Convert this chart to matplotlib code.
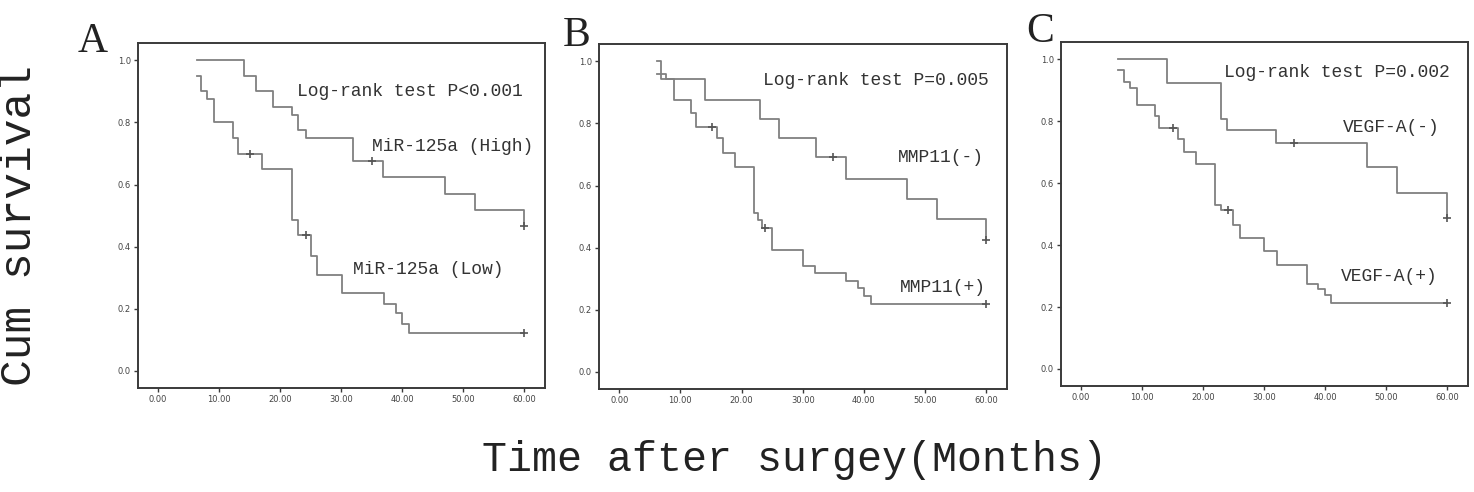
import numpy as np
import matplotlib
matplotlib.use("Agg")
import matplotlib.pyplot as plt

# panel A: MiR-125a
a_high_t = [6.3, 14.0, 16.1, 18.9, 22.0, 23.0, 24.2, 32.0, 36.9, 47.1, 52.0, 60.0]
a_high_s = [1.0, 0.95, 0.90, 0.85, 0.825, 0.775, 0.75, 0.675, 0.625, 0.571, 0.519, 0.467]
a_high_c = [35.0, 60.0]
a_low_t = [6.3, 7.0, 8.0, 9.1, 12.2, 13.1, 17.0, 22.0, 23.0, 25.1, 26.1, 30.1, 37.0, 39.0, 40.0, 41.1, 60.0]
a_low_s = [0.95, 0.90, 0.875, 0.80, 0.75, 0.70, 0.649, 0.486, 0.437, 0.370, 0.309, 0.250, 0.215, 0.185, 0.152, 0.123, 0.123]
a_low_c = [15.1, 24.2, 60.0]

# panel B: MMP11
b_neg_t = [6.2, 6.9, 14.0, 23.0, 26.1, 32.1, 37.0, 47.0, 51.9, 60.0]
b_neg_s = [1.0, 0.944, 0.876, 0.815, 0.753, 0.691, 0.622, 0.557, 0.491, 0.425]
b_neg_c = [34.9, 60.0]
b_pos_t = [6.2, 7.7, 8.9, 11.8, 12.6, 16.0, 17.0, 19.0, 22.0, 22.7, 23.4, 25.0, 30.1, 32.0, 37.0, 39.0, 40.0, 41.1, 60.0]
b_pos_s = [0.96, 0.944, 0.876, 0.835, 0.790, 0.753, 0.704, 0.661, 0.511, 0.489, 0.463, 0.392, 0.341, 0.319, 0.292, 0.271, 0.245, 0.218, 0.218]
b_pos_c = [15.1, 23.9, 60.0]

# panel C: VEGF-A
c_neg_t = [6.1, 14.1, 23.0, 23.9, 32.0, 46.9, 51.8, 59.9]
c_neg_s = [1.0, 0.923, 0.808, 0.773, 0.730, 0.652, 0.570, 0.489]
c_neg_c = [34.9, 59.9]
c_pos_t = [6.1, 7.0, 8.0, 9.1, 12.1, 12.8, 15.9, 16.9, 18.9, 21.9, 23.0, 24.9, 26.0, 29.9, 32.1, 37.0, 38.9, 39.9, 41.0, 60.0]
c_pos_s = [0.965, 0.927, 0.909, 0.853, 0.816, 0.779, 0.743, 0.701, 0.663, 0.529, 0.513, 0.465, 0.422, 0.382, 0.337, 0.275, 0.257, 0.238, 0.212, 0.212]
c_pos_c = [15.1, 24.0, 60.0]

letters = ["A", "B", "C"]
pvals = ["Log-rank test P<0.001", "Log-rank test P=0.005", "Log-rank test P=0.002"]
labels = [("MiR-125a (High)", "MiR-125a (Low)"), ("MMP11(-)", "MMP11(+)"), ("VEGF-A(-)", "VEGF-A(+)")]
curves = [
    ((a_high_t, a_high_s, a_high_c), (a_low_t, a_low_s, a_low_c)),
    ((b_neg_t, b_neg_s, b_neg_c), (b_pos_t, b_pos_s, b_pos_c)),
    ((c_neg_t, c_neg_s, c_neg_c), (c_pos_t, c_pos_s, c_pos_c)),
]

# text positions (data coords, right aligned)
pval_xy = [(59.8, 0.90), (60.4, 0.938), (60.4, 0.959)]
top_xy = [(61.5, 0.723), (59.6, 0.689), (58.8, 0.78)]
bot_xy = [(56.6, 0.325), (59.9, 0.273), (58.5, 0.298)]

axes_pos = [
    [0.0936, 0.2114, 0.2761, 0.7012],
    [0.4064, 0.2093, 0.2768, 0.7013],
    [0.7198, 0.2154, 0.2761, 0.6992],
]
letter_xy = [(93, 42), (577, 36), (1040, 32)]

line_col = "#808080"
frame_col = "#3a3a3a"
mono = "Liberation Mono"

fig = plt.figure(figsize=(14.74, 4.92), dpi=100)


def surv_at(t, s, x):
    i = np.searchsorted(t, x, side="right") - 1
    return s[max(i, 0)]


for k in range(3):
    ax = fig.add_axes(axes_pos[k])
    for t, s, c in curves[k]:
        ax.step(t, s, where="post", color=line_col, lw=1.3)
        cy = [surv_at(t, s, x) for x in c]
        ax.plot(c, cy, "+", color="#555555", ms=6, mew=1.2)
    ax.set_xlim(-3.3, 63.4)
    ax.set_ylim(-0.055, 1.056)
    ax.set_xticks(np.arange(0, 61, 10))
    ax.set_xticklabels(["%.2f" % v for v in np.arange(0, 61, 10)])
    ax.set_yticks(np.arange(0, 1.01, 0.2))
    ax.set_yticklabels(["%.1f" % v for v in np.arange(0, 1.01, 0.2)])
    ax.tick_params(direction="out", length=3, width=1, color=frame_col,
                   labelsize=6, labelcolor="#444444", pad=2)
    for sp in ax.spines.values():
        sp.set_color(frame_col)
        sp.set_linewidth(1.4)

    ax.text(pval_xy[k][0], pval_xy[k][1], pvals[k], ha="right", va="center",
            fontsize=13, family=mono, color="#333333")
    ax.text(top_xy[k][0], top_xy[k][1], labels[k][0], ha="right", va="center",
            fontsize=13, family=mono, color="#333333")
    ax.text(bot_xy[k][0], bot_xy[k][1], labels[k][1], ha="right", va="center",
            fontsize=13, family=mono, color="#333333")

    fig.text(letter_xy[k][0] / 1474, 1 - letter_xy[k][1] / 492, letters[k],
             ha="center", va="center", fontsize=30, family="Liberation Serif",
             color="#222222")

fig.text(20 / 1474, 1 - 225 / 492, "Cum survival", rotation=90, ha="center",
         va="center", fontsize=32, family=mono, color="#222222")
fig.text(794 / 1474, 1 - 460 / 492, "Time after surgey(Months)", ha="center",
         va="center", fontsize=30, family=mono, color="#222222")

fig.savefig("out.png", dpi=100)
